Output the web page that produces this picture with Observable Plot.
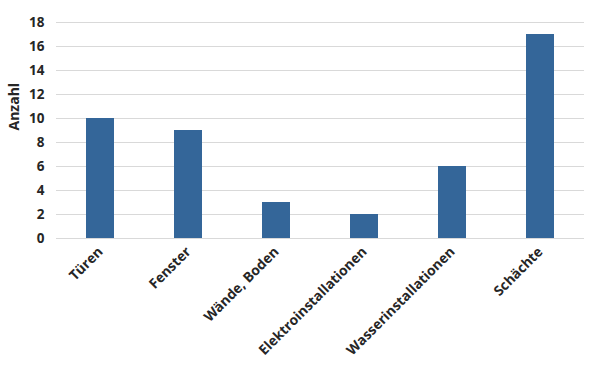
<!DOCTYPE html>
<html>
<head>
<meta charset="utf-8">
<script src="https://cdn.jsdelivr.net/npm/d3@7"></script>
<script src="https://cdn.jsdelivr.net/npm/@observablehq/plot@0.6"></script>
<style>
  body { margin: 0; background: #fff; }
  svg { font-family: "Open Sans", sans-serif; }
</style>
</head>
<body>
<div id="chart"></div>
<script>
const categories = ["Türen", "Fenster", "Wände, Boden", "Elektroinstallationen", "Wasserinstallationen", "Schächte"];
const counts = [10, 9, 3, 2, 6, 17];
const yTicks = [0, 2, 4, 6, 8, 10, 12, 14, 16, 18];
const yLabel = "Anzahl";

const data = categories.map((c, i) => ({category: c, count: counts[i]}));

const chart = Plot.plot({
  width: 589,
  height: 377,
  marginLeft: 56,
  marginRight: 5,
  marginTop: 22,
  marginBottom: 139,
  style: {fontFamily: "'Open Sans', sans-serif", background: "#fff"},
  x: {domain: categories, paddingInner: 0.68, paddingOuter: 0.34},
  y: {domain: [0, 18]},
  marks: [
    Plot.gridY(yTicks, {stroke: "#d9d9d9", strokeOpacity: 1, strokeWidth: 1}),
    Plot.barY(data, {x: "category", y: "count", fill: "#346699"}),
    Plot.axisY(yTicks, {tickSize: 0, tickPadding: 12, fontSize: 13.5, fontWeight: "bold", fill: "#262626", label: null}),
    Plot.axisX({tickSize: 0, tickPadding: 11, tickRotate: -45, fontSize: 13.8, fontWeight: "bold", fill: "#262626", label: null}),
    Plot.text([yLabel], {frameAnchor: "left", dx: -42, rotate: -90, fontSize: 14, fontWeight: "bold", fill: "#262626"})
  ]
});
document.getElementById("chart").appendChild(chart);
</script>
</body>
</html>
